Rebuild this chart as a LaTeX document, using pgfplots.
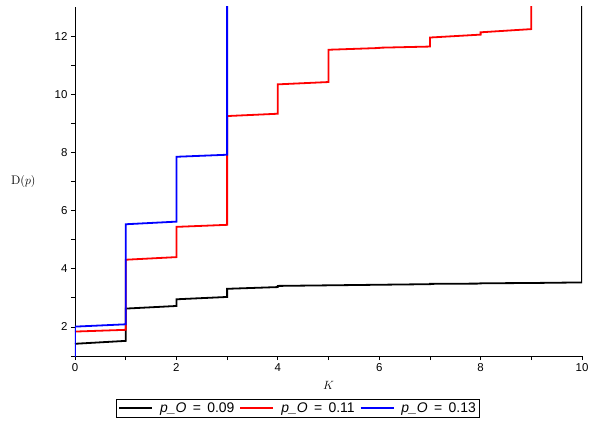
\documentclass[border=0pt]{standalone}
\usepackage{fontspec}
\usepackage{pgfplots}
\pgfplotsset{compat=1.18}
\newfontfamily\sans{Liberation Sans}

\begin{document}
\begin{tikzpicture}
\begin{axis}[
    scale only axis,
    width=507bp, height=349bp,
    xmin=0, xmax=10, ymin=1, ymax=13,
    axis lines=left,
    axis line style={-, black, line width=0.8bp},
    xtick={0,2,...,10}, minor xtick={1,3,...,9},
    ytick={2,4,...,12}, minor ytick={1,3,...,11},
    tick align=outside,
    major tick length=4bp, minor tick length=4bp,
    tick style={black, line width=0.8bp},
    /pgf/number format/assume math mode=true,
    tick label style={font=\sans\fontsize{11.5}{13}\selectfont},
    xlabel={$K$},
    xlabel style={at={(axis description cs:0.5,-0.083)}, anchor=center, font=\fontsize{12}{14}\selectfont},
    ylabel={D$(p)$},
    ylabel style={at={(axis description cs:-0.102,0.5)}, anchor=center, rotate=-90, font=\fontsize{12.5}{14}\selectfont},
    legend columns=3,
    legend style={at={(axis description cs:0.44,-0.15)}, anchor=center,
        draw=black, line width=0.8bp, font=\sans\fontsize{14}{15}\selectfont,
        inner xsep=2bp, inner ysep=1bp,
        /tikz/every even column/.append style={column sep=3bp},
        /tikz/every odd column/.append style={column sep=5bp}},
    legend image code/.code={\draw[#1, line width=1.8bp] (0bp,0bp) -- (33bp,0bp);},
]
\addplot[black, line width=1.8bp] coordinates {
    (0,1.42) (1,1.52) (1,2.63) (2,2.72) (2,2.95) (3,3.03) (3,3.31) (4,3.37)
    (4,3.41) (5,3.43) (6,3.45) (7,3.47) (7,3.48) (8,3.49) (8,3.50) (9,3.51) (10,3.53) (10,13.5)
};
\addlegendentry{\textit{p\_O}\hspace{2.5bp} = \hspace{2.5bp}0.09}

\addplot[red, line width=1.8bp] coordinates {
    (0,1.84) (1,1.90) (1,4.31) (2,4.40) (2,5.44) (3,5.51) (3,9.25) (4,9.33)
    (4,10.34) (5,10.42) (5,11.53) (6,11.59) (6,11.60) (7,11.64) (7,11.95) (8,12.05)
    (8,12.13) (9,12.24) (9,13.5)
};
\addlegendentry{\textit{p\_O}\hspace{2.5bp} = \hspace{2.5bp}0.11}

\addplot[blue, line width=1.8bp] coordinates {
    (0,0.8) (0,2.01) (1,2.09) (1,5.53) (2,5.62) (2,7.85) (3,7.92) (3,13.5)
};
\addlegendentry{\textit{p\_O}\hspace{2.5bp} = \hspace{2.5bp}0.13}
\end{axis}
\path ([shift={(-75bp,-72bp)}]current axis.south west) rectangle ([shift={(14bp,7bp)}]current axis.north east);
\end{tikzpicture}
\end{document}
